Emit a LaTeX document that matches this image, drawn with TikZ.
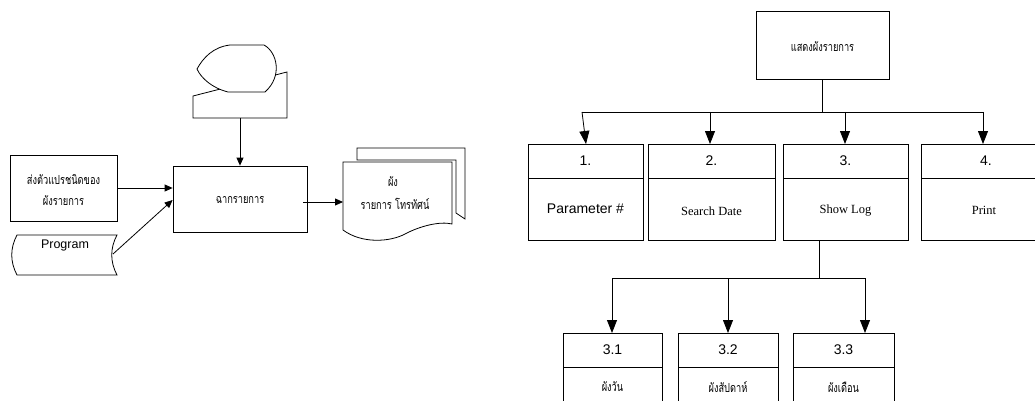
\documentclass[tikz,border=0pt]{standalone}
\usepackage{fontspec}
\setmainfont{Liberation Serif}
\newfontfamily\sansf{Liberation Sans}
\newfontfamily\thaif[Script=Thai,FakeStretch=0.74]{Loma}
\usetikzlibrary{arrows.meta}
\begin{document}
\begin{tikzpicture}[x=1pt,y=-1pt,line width=0.8pt,
  box/.style={draw,rectangle,inner sep=0pt,fill=white},
  arr/.style={-{Triangle[length=13pt,width=10pt]}},
  sarr/.style={-{Triangle[length=8pt,width=7pt]}},
  txt/.style={inner sep=0pt,anchor=center},
  num/.style={txt,font=\sansf\fontsize{14}{16}\selectfont},
  eng/.style={txt,font=\fontsize{12.5}{14}\selectfont},
  th/.style={txt,font=\thaif\fontsize{12.5}{14}\selectfont}]
\useasboundingbox (0,0) rectangle (1035,401);
\clip (0,0) rectangle (1035,401);

% ---------- left flowchart ----------
% manual input (behind)
\draw[fill=white] (193,96) -- (287,72) -- (287,118) -- (193,118) -- cycle;
\coordinate (mi) at (240,118);
% display
\draw[fill=white] (230,45) -- (264,45) .. controls (277,52) and (283,76) .. (265,92)
  -- (228,92) .. controls (212,88) and (201,78) .. (197,69)
  .. controls (203,58) and (213,47) .. (230,45) -- cycle;

% parameter box
\node[box,minimum width=107pt,minimum height=66pt] (par) at (63.5,188) {};
\node[th] at (63.5,180) {ส่งตัวแปรชนิดของ};
\node[th] at (63.5,201) {ผังรายการ};

% program (stored data)
\draw[fill=white] (17,235) -- (117,235) .. controls (110,248) and (110,262) .. (117,275)
  -- (17,275) .. controls (10,262) and (10,248) .. (17,235) -- cycle;
\node[txt,font=\sansf\fontsize{12.5}{14}\selectfont] (prog) at (65,245) {Program};
\coordinate (progR) at (113,254);

% main box
\node[box,minimum width=134pt,minimum height=66pt] (main) at (240,199) {};
\node[th] at (240,200) {ฉากรายการ};

% multi-document
\draw[fill=white] (357,148) -- (465,148) -- (465,219) .. controls (462,217) and (459,215) .. (456,213) -- (456,160) -- (357,160) -- cycle;
\draw[fill=white] (343,162) -- (452,162) -- (452,224)
  .. controls (440,221) and (420,226) .. (405,234)
  .. controls (390,242) and (362,244) .. (343,230) -- cycle;
\coordinate (docL) at (343,202);
\node[th] at (393,182) {ผัง};
\node[th] at (395,204) {รายการ โทรทัศน์};

\draw[sarr] (mi) -- (main.north);
\draw[sarr] (par.east) -- (main.west |- par.east);
\draw[sarr] (progR) -- ([yshift=-1pt]main.west);
\draw[sarr] ([xshift=-4pt]main.east |- docL) -- (docL);

% ---------- right hierarchy ----------
\node[box,minimum width=133pt,minimum height=68pt] (top) at (822.5,45) {};
\node[th] at (822.5,47) {แสดงผังรายการ};

% level-1 boxes
\node[box,minimum width=115pt,minimum height=96pt] (b1) at (585.5,192) {};
\node[box,minimum width=127pt,minimum height=96pt] (b2) at (711.5,192) {};
\node[box,minimum width=125pt,minimum height=96pt] (b3) at (845.5,192) {};
\node[box,minimum width=130pt,minimum height=96pt] (b4) at (986,192) {};
\draw (528,178) -- (643,178);
\draw (648,178) -- (775,178);
\draw (783,178) -- (908,178);
\draw (921,178) -- (1051,178);
\node[num] at (585.5,161) {1.};
\node[num] at (711.5,161) {2.};
\node[num] at (845.5,161) {3.};
\node[num] at (986,161) {4.};
\node[txt,font=\sansf\fontsize{14}{16}\selectfont] at (585.5,209) {Parameter \#};
\node[eng] at (711.5,211) {Search Date};
\node[eng] at (845.5,211) {Show Log};
\node[eng] at (984,210) {Print};

\coordinate (j0) at (822.5,112);
\draw (top.south) -- (j0);
\draw (582,112) -- (983,112);
\draw[arr] (582,112) -- (586,144);
\draw[arr] (710,112) -- (710,144);
\draw[arr] (845,112) -- (845,144);
\draw[arr] (983,112) -- (983,144);

% level-2 boxes
\node[box,minimum width=99pt,minimum height=97pt] (c1) at (612.5,381.5) {};
\node[box,minimum width=100pt,minimum height=97pt] (c2) at (728,381.5) {};
\node[box,minimum width=101pt,minimum height=97pt] (c3) at (843.5,381.5) {};
\draw (563,367) -- (662,367);
\draw (678,367) -- (778,367);
\draw (793,367) -- (894,367);
\node[num] at (612.5,350) {3.1};
\node[num] at (728,350) {3.2};
\node[num] at (843.5,350) {3.3};
\node[th] at (612.5,387) {ผังวัน};
\node[th] at (728,387) {ผังสัปดาห์};
\node[th] at (843.5,387) {ผังเดือน};

\coordinate (j1) at (819,278);
\draw (819,240) -- (j1);
\draw (612,278) -- (865,278);
\draw[arr] (612,278) -- (612,333);
\draw[arr] (728,278) -- (728,333);
\draw[arr] (865,278) -- (865,333);
\end{tikzpicture}
\end{document}
